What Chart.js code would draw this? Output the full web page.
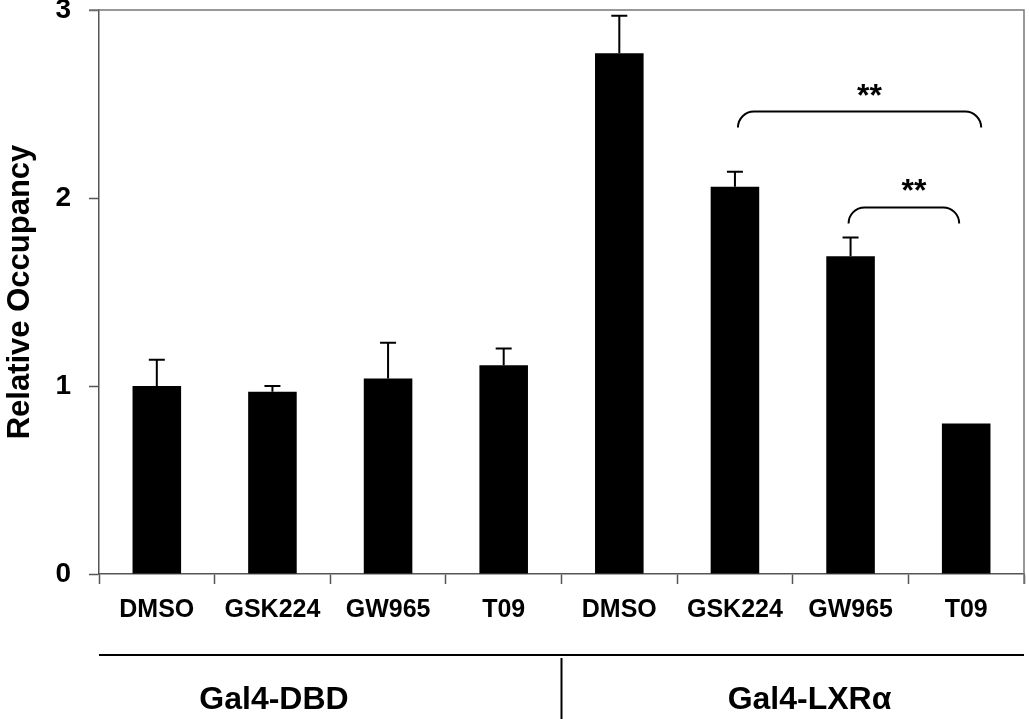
<!DOCTYPE html>
<html>
<head>
<meta charset="utf-8">
<script src="https://cdn.jsdelivr.net/npm/chart.js@4/dist/chart.umd.min.js"></script>
<style>
  html, body { margin: 0; padding: 0; background: #fff; }
  #wrap { width: 1029px; height: 719px; }
</style>
</head>
<body>
<div id="wrap"><canvas id="chart" width="1029" height="719"></canvas></div>
<script>
// Data
const categories = ['DMSO', 'GSK224', 'GW965', 'T09', 'DMSO', 'GSK224', 'GW965', 'T09'];
const occupancy = [1.00, 0.97, 1.04, 1.11, 2.77, 2.06, 1.69, 0.80];
const errorUp = [0.14, 0.03, 0.19, 0.09, 0.20, 0.08, 0.10, 0];
const groupNames = ['Gal4-DBD', 'Gal4-LXR\u03b1'];
const groupSizes = [4, 4];
const yTicks = [0, 1, 2, 3];
// significance brackets: from bar index, to bar index, height (data units), label
const brackets = [
  { from: 5, to: 7, y: 2.46, label: '**' },
  { from: 6, to: 7, y: 1.95, label: '**' },
];
// pixel nudges for the bracket ends (left, right)
const bracketNudge = [[3, 15], [-2, -7]];

const FONT = '"Liberation Sans", Arial, Helvetica, sans-serif';
const AXIS = '#555';

const extras = {
  id: 'extras',
  afterDatasetsDraw(chart) {
    const { ctx, chartArea: a } = chart;
    const x = chart.scales.x, y = chart.scales.y;
    const meta = chart.getDatasetMeta(0);
    ctx.save();

    // error bars (upper only)
    ctx.strokeStyle = '#000';
    ctx.lineWidth = 2;
    meta.data.forEach((bar, i) => {
      if (!errorUp[i]) return;
      const top = y.getPixelForValue(occupancy[i] + errorUp[i]);
      ctx.beginPath();
      ctx.moveTo(bar.x, bar.y);
      ctx.lineTo(bar.x, top);
      ctx.moveTo(bar.x - 8, top);
      ctx.lineTo(bar.x + 8, top);
      ctx.stroke();
    });

    // frame: top and right
    ctx.strokeStyle = '#777';
    ctx.lineWidth = 1.5;
    ctx.beginPath();
    ctx.moveTo(a.left - 10, a.top);
    ctx.lineTo(a.right, a.top);
    ctx.lineTo(a.right, a.bottom + 10);
    ctx.stroke();

    // brackets
    ctx.strokeStyle = '#000';
    ctx.lineWidth = 2;
    ctx.fillStyle = '#000';
    ctx.font = 'bold 32px ' + FONT;
    ctx.textAlign = 'center';
    ctx.textBaseline = 'alphabetic';
    brackets.forEach((b, i) => {
      const x1 = x.getPixelForValue(b.from) + bracketNudge[i][0];
      const x2 = x.getPixelForValue(b.to) + bracketNudge[i][1];
      const yt = y.getPixelForValue(b.y);
      const yb = yt + 16;
      const r = 16;
      ctx.beginPath();
      ctx.moveTo(x1, yb);
      ctx.arcTo(x1, yt, x1 + r, yt, r);
      ctx.lineTo(x2 - r, yt);
      ctx.arcTo(x2, yt, x2, yb, r);
      ctx.stroke();
      ctx.fillText(b.label, (x1 + x2) / 2 + 10, yt - 6);
    });

    // group lines and labels
    const lineY = a.bottom + 81;
    ctx.lineWidth = 2;
    ctx.beginPath();
    ctx.moveTo(a.left, lineY);
    ctx.lineTo(a.right, lineY);
    let start = 0;
    const bounds = [];
    const step = x.getPixelForValue(1) - x.getPixelForValue(0);
    groupSizes.forEach((n) => {
      bounds.push([x.getPixelForValue(start) - step / 2, x.getPixelForValue(start + n - 1) + step / 2]);
      start += n;
    });
    const sep = bounds[0][1];
    ctx.moveTo(sep, lineY + 3);
    ctx.lineTo(sep, chart.height);
    ctx.stroke();

    ctx.font = 'bold 32px ' + FONT;
    ctx.textBaseline = 'middle';
    ctx.fillText(groupNames[0], bounds[0][0] + 175, a.bottom + 126);
    ctx.fillText(groupNames[1], bounds[1][0] + 248, a.bottom + 126);
    ctx.restore();
  }
};

new Chart(document.getElementById('chart'), {
  type: 'bar',
  data: {
    labels: categories,
    datasets: [{
      data: occupancy,
      backgroundColor: '#000',
      borderWidth: 0,
      barPercentage: 0.84,
      categoryPercentage: 0.5,
    }],
  },
  options: {
    responsive: false,
    animation: false,
    layout: { padding: { top: 10, right: 5, left: 0, bottom: 0 } },
    plugins: { legend: { display: false }, tooltip: { enabled: false } },
    scales: {
      x: {
        grid: { drawOnChartArea: false, offset: true, color: AXIS, tickLength: 10, tickWidth: 1.5 },
        border: { color: AXIS, width: 1.5 },
        ticks: { color: '#000', font: { family: FONT, size: 25, weight: 'bold' }, padding: 11, maxRotation: 0, autoSkip: false },
        afterFit(s) { s.height = 145; s.paddingLeft = 0; s.paddingRight = 0; },
      },
      y: {
        min: 0,
        max: 3,
        afterBuildTicks(s) { s.ticks = yTicks.map((v) => ({ value: v })); },
        grid: { drawOnChartArea: false, color: AXIS, tickLength: 10, tickWidth: 1.5 },
        border: { color: AXIS, width: 1.5 },
        ticks: { color: '#000', font: { family: FONT, size: 28, weight: 'bold' }, padding: 18 },
        title: { display: true, text: 'Relative Occupancy', color: '#000', font: { family: FONT, size: 31, weight: 'bold' }, padding: { top: 2, bottom: 0 } },
        afterFit(s) { s.width = 99; s.paddingTop = 0; s.paddingBottom = 0; },
      },
    },
  },
  plugins: [extras],
});
</script>
</body>
</html>
